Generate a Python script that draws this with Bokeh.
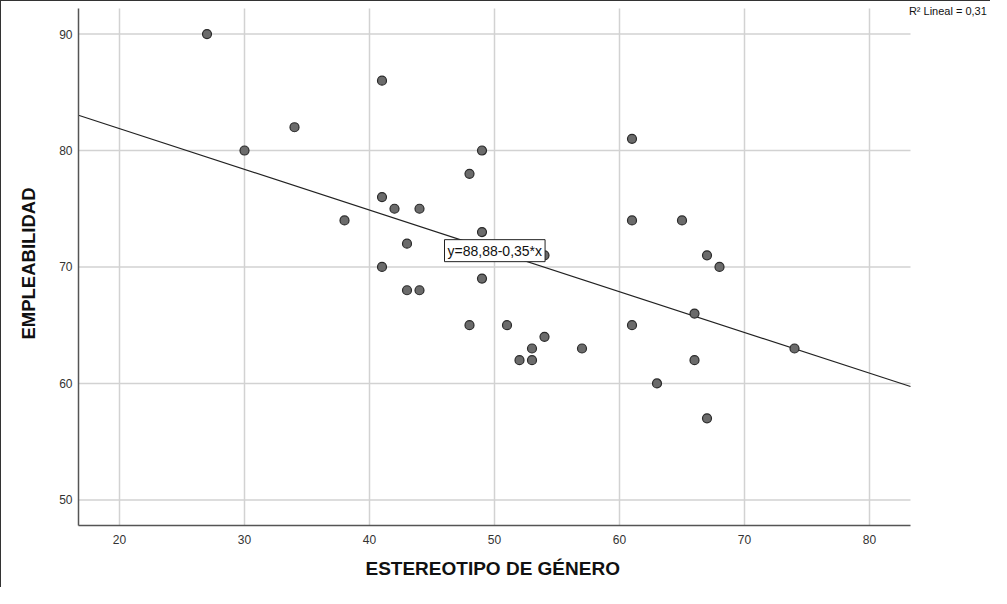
from bokeh.plotting import figure
from bokeh.models import Range1d, FixedTicker, Label, ColumnDataSource, Title
from bokeh.embed import file_html
from bokeh.resources import INLINE
import numpy as np

# Data
estereotipo = [27, 30, 34, 38, 41, 41, 41, 42, 43, 43, 44, 44, 48, 48, 49, 49, 49,
               51, 52, 53, 53, 54, 54, 57, 61, 61, 61, 63, 65, 66, 66, 67, 67, 68, 74]
empleabilidad = [90, 80, 82, 74, 86, 76, 70, 75, 72, 68, 75, 68, 78, 65, 80, 73, 69,
                 65, 62, 63, 62, 64, 71, 63, 81, 74, 65, 60, 74, 66, 62, 71, 57, 70, 63]
intercept = 88.88
slope = -0.35
r2 = 0.31
x_ticks = [20, 30, 40, 50, 60, 70, 80]
y_ticks = [50, 60, 70, 80, 90]

FONT = "Liberation Sans"
W, H = 990, 587
BL, BB = 77, 59
X0, X1 = 16.72, 83.28       # visible axis extent (x)
Y0, Y1 = 47.8, 92.2         # visible axis extent (y)
PX_X = 832 / (X1 - X0)
FRAME_W = W - BL
FRAME_H = H - BB
PX_Y = 521 / (Y1 - Y0)
XR_END = X0 + FRAME_W / PX_X
YR_END = Y0 + FRAME_H / PX_Y

p = figure(width=W, height=H, output_backend="svg", toolbar_location=None,
           x_range=Range1d(X0, XR_END), y_range=Range1d(Y0, YR_END),
           min_border_left=BL, min_border_right=0, min_border_top=0, min_border_bottom=BB,
           styles={"border-top": "1px solid #333", "border-left": "1px solid #333"})
p.outline_line_color = None
p.background_fill_color = "white"
p.border_fill_color = "white"
p.xgrid.visible = False
p.ygrid.visible = False

for ax in (p.xaxis[0], p.yaxis[0]):
    ax.axis_line_color = "#555555"
    ax.axis_line_width = 1.5
    ax.major_tick_line_color = None
    ax.minor_tick_line_color = None
    ax.major_tick_out = 0
    ax.major_tick_in = 0
    ax.minor_tick_out = 0
    ax.major_label_text_font = FONT
    ax.major_label_text_font_size = "12px"
    ax.major_label_text_color = "#333333"
    ax.axis_label_text_font = FONT
    ax.axis_label_text_font_size = "18.5px"
    ax.axis_label_text_font_style = "bold"
    ax.axis_label_text_color = "#111111"

p.xaxis.bounds = (X0, X1)
p.yaxis.bounds = (Y0, Y1)
p.xaxis.ticker = FixedTicker(ticks=x_ticks)
p.yaxis.ticker = FixedTicker(ticks=y_ticks)
p.yaxis.axis_label = "EMPLEABILIDAD"
p.xaxis.major_label_standoff = 9
p.yaxis.major_label_standoff = 6
p.yaxis.axis_label_standoff = 17

# x axis title, placed under the visible axis extent
p.add_layout(Title(text="ESTEREOTIPO DE GÉNERO", align="left", offset=287,
                   text_font=FONT, text_font_size="19px", text_font_style="bold",
                   text_color="#111111", standoff=19, text_line_height=0.7), "below")

# grid lines limited to the visible axis extent
p.segment(x0=x_ticks, y0=[Y0] * len(x_ticks), x1=x_ticks, y1=[Y1] * len(x_ticks),
          line_color="#d2d2d2", line_width=1.5, level="underlay")
p.segment(x0=[X0] * len(y_ticks), y0=y_ticks, x1=[X1] * len(y_ticks), y1=y_ticks,
          line_color="#d2d2d2", line_width=1.5, level="underlay")

# regression line
lx = np.array([X0, X1])
p.line(lx, intercept + slope * lx, line_color="#222222", line_width=1.2)

src = ColumnDataSource(dict(x=estereotipo, y=empleabilidad))
p.scatter("x", "y", source=src, size=9, fill_color="#6b6b6b", line_color="#2a2a2a", line_width=1.2)

eq = "y=%s-%s*x" % (("%.2f" % intercept).replace(".", ","), ("%.2f" % abs(slope)).replace(".", ","))
p.add_layout(Label(x=46.0, y=71.4, text=eq, text_font=FONT, text_font_size="14px",
                   text_baseline="middle", text_align="left", text_color="#111111",
                   background_fill_color="white", background_fill_alpha=1.0,
                   border_line_color="#222222", border_line_width=1, padding=3))

r2_text = "R² Lineal = " + ("%.2f" % r2).replace(".", ",")
p.add_layout(Label(x=83.15, y=YR_END - 4 / PX_Y, text=r2_text,
                   text_font=FONT, text_font_size="11px",
                   text_baseline="top", text_align="left", text_color="#111111"))

open("out.html", "w").write(file_html(p, INLINE))
